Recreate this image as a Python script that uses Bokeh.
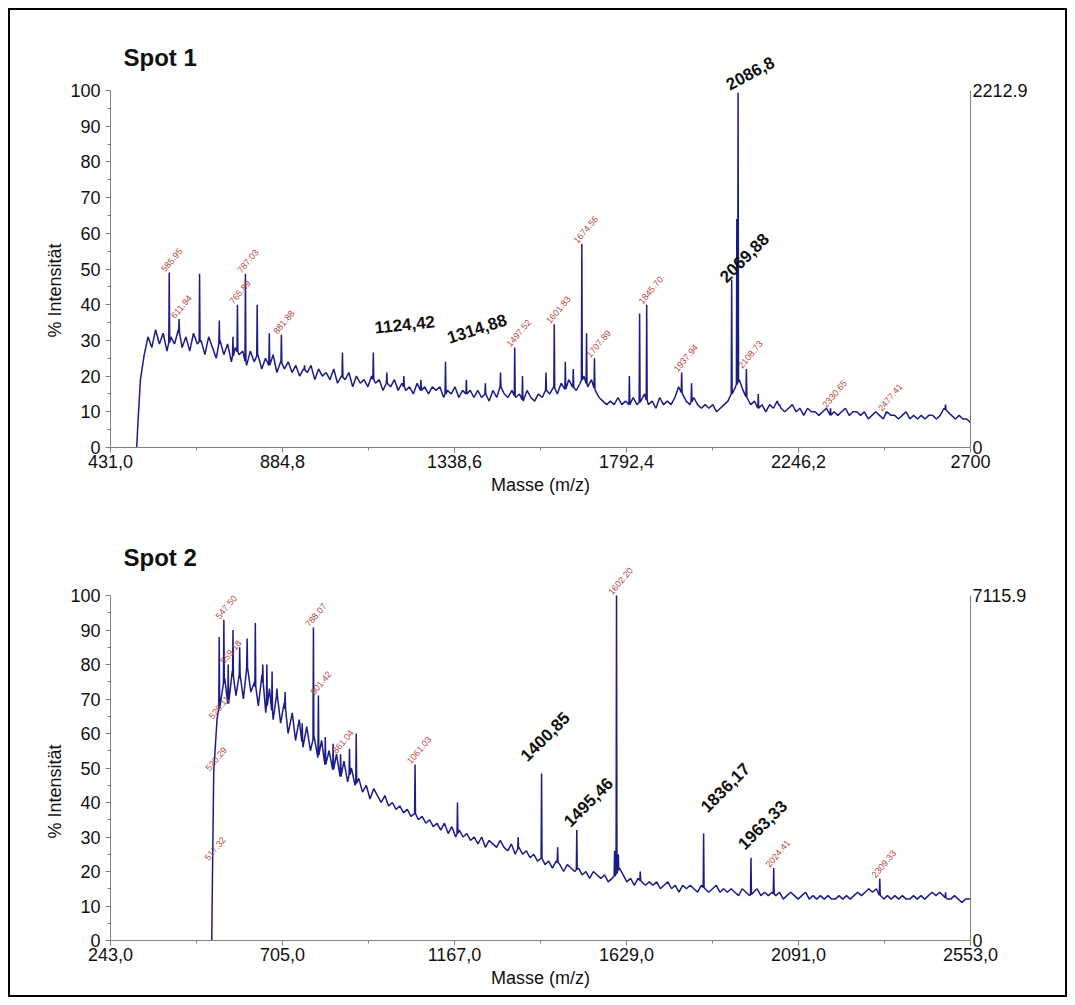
import numpy as np
from bokeh.plotting import figure
from bokeh.layouts import column
from bokeh.models import Range1d, LinearAxis, FixedTicker, ColumnDataSource, Label, Title
from bokeh.core.properties import value
from bokeh.embed import file_html
from bokeh.resources import INLINE

# ---------------------------------------------------------------- Spot 1 data
s1_x_ticks = [431.0, 884.8, 1338.6, 1792.4, 2246.2, 2700.0]
s1_x_tick_labels = ["431,0", "884,8", "1338,6", "1792,4", "2246,2", "2700"]
s1_abs_max = 2212.9

s1_bg_mass = [500, 505, 510, 520, 530, 540, 550, 560, 570, 580, 590,
              600, 610, 620, 630, 640, 650, 660, 670, 680, 690,
              700, 710, 720, 730, 740, 750, 760, 770, 780, 790,
              800, 810, 820, 830, 840, 850, 860, 870, 880, 890,
              900, 910, 920, 930, 940, 950, 960, 970, 980, 990,
              1000, 1010, 1020, 1030, 1040, 1050, 1060, 1070, 1080, 1090,
              1100, 1110, 1120, 1130, 1140, 1150, 1160, 1170, 1180, 1190,
              1200, 1210, 1220, 1230, 1240, 1250, 1260, 1270, 1280, 1290,
              1300, 1310, 1320, 1330, 1340, 1350, 1360, 1370, 1380, 1390,
              1400, 1410, 1420, 1430, 1440, 1450, 1460, 1470, 1480, 1490,
              1500, 1510, 1520, 1530, 1540, 1550, 1560, 1570, 1580, 1590,
              1600, 1610, 1620, 1630, 1640, 1650, 1660, 1670, 1680, 1690,
              1700, 1710, 1720, 1730, 1740, 1750, 1760, 1770, 1780, 1790,
              1800, 1810, 1820, 1830, 1840, 1850, 1860, 1870, 1880, 1890,
              1900, 1910, 1920, 1930, 1940, 1950, 1960, 1970, 1980, 1990,
              2000, 2010, 2020, 2030, 2040, 2050, 2060, 2070, 2080, 2090,
              2100, 2110, 2120, 2130, 2140, 2150, 2160, 2170, 2180, 2190,
              2200, 2210, 2220, 2230, 2240, 2250, 2260, 2270, 2280, 2290,
              2300, 2310, 2320, 2330, 2340, 2350, 2360, 2370, 2380, 2390,
              2400, 2410, 2420, 2430, 2440, 2450, 2460, 2470, 2480, 2490,
              2500, 2510, 2520, 2530, 2540, 2550, 2560, 2570, 2580, 2590,
              2600, 2610, 2620, 2630, 2640, 2650, 2660, 2670, 2680, 2690,
              2700]
s1_bg_int = [0, 10, 19, 26, 31, 28, 33, 29, 32, 27, 31,
             29, 33, 28, 31, 27, 32, 29, 30, 26, 31,
             28, 25, 30, 26, 29, 24, 28, 26, 27, 23,
             27, 24, 26, 22, 25, 23, 26, 21, 24, 22,
             24, 21, 23, 20, 22, 21, 23, 19, 22, 20,
             21, 19, 22, 18, 20, 19, 21, 17, 20, 18,
             19, 17, 20, 18, 19, 16, 18, 17, 19, 16,
             18, 16, 17, 15, 18, 16, 17, 15, 17, 16,
             17, 14, 16, 15, 17, 14, 16, 15, 16, 14,
             16, 14, 15, 13, 16, 14, 17, 15, 14, 16,
             14, 15, 13, 16, 14, 13, 15, 14, 16, 15,
             17, 15, 18, 16, 19, 17, 16, 18, 20, 17,
             19, 16, 14, 13, 12, 13, 12, 14, 12, 13,
             12, 14, 12, 13, 15, 12, 13, 11, 14, 12,
             13, 12, 14, 17, 15, 13, 12, 14, 12, 11,
             12, 11, 12, 10, 11, 12, 13, 15, 17, 19,
             16, 14, 12, 13, 11, 12, 10, 12, 11, 13,
             11, 10, 11, 12, 10, 11, 9, 11, 10, 10,
             9, 10, 11, 9, 10, 9, 10, 11, 9, 10,
             10, 9, 10, 8, 9, 10, 9, 8, 10, 9,
             9, 8, 9, 10, 8, 9, 8, 9, 8, 9,
             9, 8, 9, 11, 10, 9, 8, 9, 8, 8,
             7]

s1_peak_mass = [585.95, 611.94, 666, 718, 754, 765.89, 787.03, 818, 850, 881.88,
                943, 1043, 1124.42, 1160, 1205, 1250, 1314.88, 1370, 1420, 1460,
                1497.52, 1518, 1580, 1601.83, 1631, 1652, 1674.56, 1687, 1707.89,
                1800, 1827, 1845.70, 1937.94, 1964, 2069.88, 2083.5, 2086.8,
                2108.73, 2140, 2196, 2330.65, 2477.41, 2634]
s1_peak_int = [49, 36, 48.7, 35.6, 31, 40, 48.7, 40, 32, 31.6,
               23, 26.6, 26.6, 21, 20, 19, 24, 19, 18, 21,
               28, 20, 21, 34.5, 24, 22, 57, 32, 25,
               20, 37.5, 40, 21, 18, 47, 64, 99.4,
               22, 15, 12, 11, 10, 12]

# annotated peaks
s1_red_mass = [585.95, 611.94, 765.89, 787.03, 881.88, 1497.52, 1601.83, 1674.56,
               1707.89, 1845.70, 1937.94, 2108.73, 2330.65, 2477.41]
s1_black_mass = [1124.42, 1314.88, 2069.88, 2086.8]
s1_black_decimals = [2, 2, 2, 1]

# ---------------------------------------------------------------- Spot 2 data
s2_x_ticks = [243.0, 705.0, 1167.0, 1629.0, 2091.0, 2553.0]
s2_x_tick_labels = ["243,0", "705,0", "1167,0", "1629,0", "2091,0", "2553,0"]
s2_abs_max = 7115.9

s2_bg_mass = [515, 517.32, 520.29, 529.11, 540, 550, 560, 570, 580, 590,
              600, 610, 620, 630, 640, 650, 660, 670, 680, 690,
              700, 710, 720, 730, 740, 750, 760, 770, 780, 790,
              800, 810, 820, 830, 840, 850, 860, 870, 880, 890,
              900, 910, 920, 930, 940, 950, 960, 970, 980, 990,
              1000, 1010, 1020, 1030, 1040, 1050, 1060, 1070, 1080, 1090,
              1100, 1110, 1120, 1130, 1140, 1150, 1160, 1170, 1180, 1190,
              1200, 1210, 1220, 1230, 1240, 1250, 1260, 1270, 1280, 1290,
              1300, 1310, 1320, 1330, 1340, 1350, 1360, 1370, 1380, 1390,
              1400, 1410, 1420, 1430, 1440, 1450, 1460, 1470, 1480, 1490,
              1500, 1510, 1520, 1530, 1540, 1550, 1560, 1570, 1580, 1590,
              1600, 1610, 1620, 1630, 1640, 1650, 1660, 1670, 1680, 1690,
              1700, 1710, 1720, 1730, 1740, 1750, 1760, 1770, 1780, 1790,
              1800, 1810, 1820, 1830, 1840, 1850, 1860, 1870, 1880, 1890,
              1900, 1910, 1920, 1930, 1940, 1950, 1960, 1970, 1980, 1990,
              2000, 2010, 2020, 2030, 2040, 2050, 2060, 2070, 2080, 2090,
              2100, 2110, 2120, 2130, 2140, 2150, 2160, 2170, 2180, 2190,
              2200, 2210, 2220, 2230, 2240, 2250, 2260, 2270, 2280, 2290,
              2300, 2310, 2320, 2330, 2340, 2350, 2360, 2370, 2380, 2390,
              2400, 2410, 2420, 2430, 2440, 2450, 2460, 2470, 2480, 2490,
              2500, 2510, 2520, 2530, 2540, 2553]
s2_bg_int = [0, 23, 49, 64, 70, 76, 68, 78, 71, 77,
             70, 79, 72, 75, 68, 77, 66, 73, 64, 71,
             63, 69, 60, 66, 58, 64, 56, 62, 55, 59,
             53, 58, 51, 55, 49, 54, 47, 52, 46, 50,
             45, 47, 43, 45, 41, 44, 42, 40, 42, 39,
             40, 38, 39, 37, 38, 36, 37, 35, 36, 34,
             35, 33, 34, 32, 34, 31, 33, 30, 32, 30,
             31, 29, 30, 28, 30, 27, 29, 28, 27, 29,
             27, 26, 28, 25, 27, 25, 26, 24, 25, 23,
             24, 22, 23, 21, 23, 22, 20, 22, 21, 20,
             21, 19, 20, 18, 20, 19, 18, 19, 17, 18,
             19, 21, 19, 17, 18, 16, 18, 17, 16, 17,
             16, 17, 15, 16, 17, 15, 16, 14, 16, 15,
             16, 15, 14, 16, 15, 14, 15, 16, 14, 15,
             14, 15, 14, 13, 15, 14, 13, 14, 15, 13,
             14, 13, 14, 13, 14, 12, 13, 14, 13, 12,
             13, 14, 12, 13, 12, 13, 12, 13, 12, 12,
             13, 12, 13, 12, 13, 14, 13, 14, 15, 14,
             15, 13, 12, 13, 12, 13, 12, 13, 12, 12,
             13, 12, 13, 12, 13, 14, 13, 14, 13, 12,
             12, 13, 12, 11, 12, 12]

s2_peak_mass = [535, 547.50, 559.18, 572, 590, 610, 632, 652, 663, 677, 690, 712,
                731, 758, 788.07, 801.42, 820, 841, 861.04, 885, 903, 1061.03,
                1175, 1338, 1400.85, 1444, 1495.46, 1597, 1602.20, 1607, 1666,
                1836.17, 1963.33, 2024.41, 2309.33, 2486]
s2_peak_int = [88, 93, 80, 90, 85, 87.5, 92, 80, 80, 78, 73, 72,
               66, 63, 90.7, 71, 59, 57, 54, 55.6, 60, 51,
               40, 30, 48.4, 27, 32, 26, 100, 25, 20,
               31, 24, 21, 18, 14]

s2_red_mass = [517.32, 520.29, 529.11, 547.50, 559.18, 788.07, 801.42, 861.04,
               1061.03, 1602.20, 2024.41, 2309.33]
s2_black_mass = [1400.85, 1495.46, 1836.17, 1963.33]
s2_black_decimals = [2, 2, 2, 2]

# ---------------------------------------------------------------- styling
SANS = "Liberation Sans"
LINE_COLOR = "#1c1c86"
AXIS_COLOR = "#808080"
RED = "#b8473f"
PEAK_HALF_WIDTH = 1.2
FRAME_W = 860

# placement of the bold annotations (angle in degrees, screen offsets in px)
s1_black_style = dict(angle=[6, 18, 45, 28], dx=[2, 4, -5, -8], dy=[-19, -18, 4, -2])
s2_black_style = dict(angle=[45, 45, 45, 45], dx=[-14, -6, 4, -6], dy=[-11, -2, -20, -7])


def build_spectrum(bg_m, bg_i, pk_m, pk_i, hw):
    """Merge the background trace with narrow triangular peaks."""
    bg_m = np.asarray(bg_m, float)
    bg_i = np.asarray(bg_i, float)
    pk_m = np.asarray(pk_m, float)
    pk_i = np.asarray(pk_i, float)
    keep = np.ones(len(bg_m), bool)
    for m in pk_m:
        keep &= np.abs(bg_m - m) > hw
    base = np.interp(pk_m, bg_m, bg_i)
    xs = np.concatenate([bg_m[keep], pk_m - hw, pk_m, pk_m + hw])
    ys = np.concatenate([bg_i[keep], base, pk_i, base])
    order = np.argsort(xs, kind="stable")
    return xs[order], ys[order]


def comma(v, d):
    return f"{v:.{d}f}".replace(".", ",")


def make_panel(title, ticks, tick_labels, abs_max, bg_m, bg_i, pk_m, pk_i,
               red_m, black_m, black_dec, black_style, height, top, bottom,
               px_per_unit, ylabel_offset):
    frame_h = height - top - bottom
    ymax = frame_h / px_per_unit
    x0, x1 = ticks[0], ticks[-1]
    per_px = (x1 - x0) / FRAME_W
    p = figure(width=1055, height=height, x_range=Range1d(x0, x1), y_range=Range1d(0, ymax),
               output_backend="svg", toolbar_location=None,
               min_border_left=100, min_border_right=95,
               min_border_top=top, min_border_bottom=bottom,
               x_axis_label="Masse (m/z)")
    p.outline_line_color = None
    p.grid.visible = False
    p.background_fill_color = "white"
    p.border_fill_color = "white"

    # bottom axis
    xa = p.xaxis[0]
    mids = [(a + b) / 2 for a, b in zip(ticks[:-1], ticks[1:])]
    xa.ticker = FixedTicker(ticks=ticks, minor_ticks=mids)
    xa.major_label_overrides = {t: lab for t, lab in zip(ticks, tick_labels)}
    # left axis
    ya = p.yaxis[0]
    ya.bounds = (0, 100)
    ya.ticker = FixedTicker(ticks=list(range(0, 101, 10)), minor_ticks=list(range(5, 100, 10)))
    for ax in (xa, ya):
        ax.axis_line_color = AXIS_COLOR
        ax.major_tick_line_color = AXIS_COLOR
        ax.minor_tick_line_color = AXIS_COLOR
        ax.major_tick_in = 0
        ax.major_tick_out = 5
        ax.minor_tick_in = 0
        ax.minor_tick_out = 3
        ax.major_label_text_font = SANS
        ax.major_label_text_font_size = "18px"
        ax.major_label_text_color = "#111111"
        ax.axis_label_text_font = SANS
        ax.axis_label_text_font_size = "18px"
        ax.axis_label_text_font_style = "normal"
        ax.axis_label_text_color = "#111111"
    xa.major_label_standoff = 2
    xa.axis_label_standoff = 4
    ya.major_label_standoff = 5

    # y axis title, placed along the 0-100 part of the scale
    p.add_layout(Title(text="% Intensität", align="left", offset=ylabel_offset,
                       text_font=SANS, text_font_size="18px", text_font_style="normal",
                       text_color="#111111", standoff=6), "left")

    # right axis: absolute intensity scale
    p.extra_y_ranges = {"abs": Range1d(0, abs_max * ymax / 100.0)}
    ra = LinearAxis(y_range_name="abs", bounds=(0, abs_max),
                    ticker=FixedTicker(ticks=[0, abs_max]),
                    major_label_overrides={0: "0", abs_max: f"{abs_max:.1f}"})
    ra.axis_line_color = AXIS_COLOR
    ra.major_tick_in = 0
    ra.major_tick_out = 0
    ra.minor_tick_in = 0
    ra.minor_tick_out = 0
    ra.major_label_standoff = 2
    ra.major_label_text_font = SANS
    ra.major_label_text_font_size = "18px"
    ra.major_label_text_color = "#111111"
    p.add_layout(ra, "right")

    # spectrum
    xs, ys = build_spectrum(bg_m, bg_i, pk_m, pk_i, PEAK_HALF_WIDTH)
    p.line(xs, ys, line_color=LINE_COLOR, line_width=1.5)

    # small red m/z annotations
    red_y = np.interp(red_m, xs, ys)
    red_src = ColumnDataSource(dict(x=red_m, y=red_y, t=[f"{m:.2f}" for m in red_m]))
    p.text(x="x", y="y", text="t", source=red_src, angle=50, angle_units="deg",
           text_font=value(SANS), text_font_size=value("9px"), text_color=RED,
           text_align="left", text_baseline="bottom", x_offset=-4, y_offset=0)

    # bold black m/z annotations
    black_y = np.interp(black_m, xs, ys)
    blk_src = ColumnDataSource(dict(x=black_m, y=black_y,
                                    t=[comma(m, d) for m, d in zip(black_m, black_dec)],
                                    a=black_style["angle"], dx=black_style["dx"],
                                    dy=black_style["dy"]))
    p.text(x="x", y="y", text="t", source=blk_src, angle="a", angle_units="deg",
           x_offset="dx", y_offset="dy", text_font=value(SANS),
           text_font_size=value("17px"), text_font_style="bold", text_color="#111111",
           text_align="left", text_baseline="bottom")

    # panel title
    p.add_layout(Label(x=x0 + 13 * per_px, y=ymax - 17.0 / px_per_unit, text=title,
                       text_font=SANS, text_font_size="24px", text_font_style="bold",
                       text_color="#111111", text_align="left", text_baseline="middle"))
    return p


p1 = make_panel("Spot 1", s1_x_ticks, s1_x_tick_labels, s1_abs_max,
                s1_bg_mass, s1_bg_int, s1_peak_mass, s1_peak_int,
                s1_red_mass, s1_black_mass, s1_black_decimals, s1_black_style,
                height=495, top=30, bottom=58, px_per_unit=3.57, ylabel_offset=110)
p2 = make_panel("Spot 2", s2_x_ticks, s2_x_tick_labels, s2_abs_max,
                s2_bg_mass, s2_bg_int, s2_peak_mass, s2_peak_int,
                s2_red_mass, s2_black_mass, s2_black_decimals, s2_black_style,
                height=490, top=35, bottom=55, px_per_unit=3.45, ylabel_offset=102)

layout = column(p1, p2, margin=(8, 0, 0, 8),
                styles={"border": "2px solid #000000", "background-color": "white"})

with open("out.html", "w") as f:
    f.write(file_html(layout, INLINE, title="Spot 1 / Spot 2"))
